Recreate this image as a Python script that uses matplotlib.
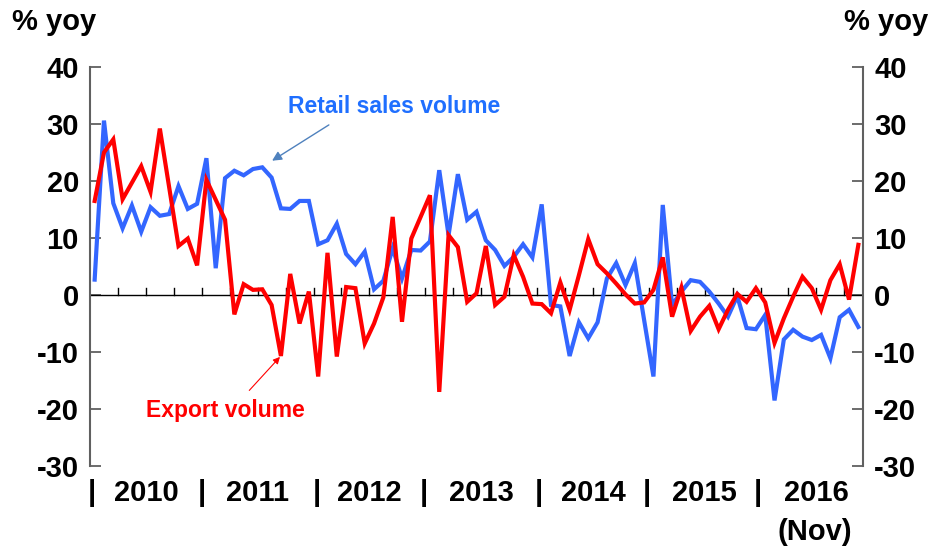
import numpy as np
import matplotlib
matplotlib.use("Agg")
import matplotlib.pyplot as plt
from matplotlib.transforms import blended_transform_factory

plt.rcParams.update({
    "font.family": ["Liberation Sans", "DejaVu Sans"],
    "font.weight": "bold",
    "axes.unicode_minus": False,
})

BLUE = "#3366ff"
RED = "#ff0000"
SPINE = "#606060"

# monthly, Jan 2010 .. Nov 2016 (% yoy)
retail = [2.7, 30.6, 16.1, 11.7, 15.7, 11.1, 15.4, 13.9, 14.2, 19.1, 15.1, 16.0,
          24.0, 4.7, 20.5, 21.8, 21.0, 22.1, 22.4, 20.6, 15.2, 15.1, 16.5, 16.5,
          8.9, 9.6, 12.5, 7.2, 5.4, 7.6, 1.0, 2.5, 8.2, 2.9, 7.9, 7.8,
          9.4, 21.9, 10.5, 21.2, 13.2, 14.6, 9.6, 7.9, 5.1, 6.7, 8.9, 6.6,
          15.9, -1.75, -2.0, -10.7, -4.8, -7.6, -4.8, 2.9, 5.6, 1.75, 5.6, -4.4,
          -14.3, 15.8, -1.75, 0.6, 2.6, 2.3, 0.6, -1.5, -3.8, -0.2, -5.8, -6.0,
          -3.5, -18.5, -7.8, -6.1, -7.3, -7.9, -7.0, -11.1, -3.9, -2.6, -5.6]
export = [16.5, 25.0, 27.3, 16.8, 19.7, 22.6, 18.1, 29.2, 18.9, 8.6, 9.9, 5.2,
          20.2, 16.7, 13.2, -3.4, 1.9, 0.9, 1.0, -1.75, -10.7, 3.7, -5.0, 0.6,
          -14.3, 7.4, -10.8, 1.4, 1.2, -8.5, -5.0, -0.4, 13.7, -4.7, 9.9, 13.7,
          17.5, -17.0, 10.5, 8.4, -1.2, 0.3, 8.6, -1.75, -0.3, 7.0, 3.2, -1.5,
          -1.6, -3.2, 2.2, -2.6, 3.5, 9.8, 5.4, 3.8, 2.0, 0.1, -1.5, -1.3,
          0.9, 6.6, -3.8, 1.3, -6.3, -3.8, -1.9, -6.0, -2.6, 0.2, -1.2, 1.2,
          -1.3, -8.4, -4.1, -0.3, 3.2, 1.2, -2.6, 2.6, 5.4, -0.8, 8.8]
years = ["2010", "2011", "2012", "2013", "2014", "2015", "2016"]
year_centres = [5.5, 17.5, 29.5, 41.5, 53.5, 65.5, 77.5]
pipe_pos = [-0.3, 11.5, 23.9, 35.4, 47.7, 59.3, 71.2]
yticks = np.arange(-30, 41, 10)

x = np.arange(len(retail))

fig = plt.figure(figsize=(9.41, 5.54), dpi=100)
ax = fig.add_axes([90 / 941, 1 - 466 / 554, 773 / 941, 399 / 554])

ax.plot(x, retail, color=BLUE, lw=3.0, solid_joinstyle="miter", zorder=3)
ax.plot(x, export, color=RED, lw=3.0, solid_joinstyle="miter", zorder=4)
ax.axhline(0, color="black", lw=1.0, zorder=2)

# quarter ticks sitting on the zero line
for q in np.arange(2.5, len(x) - 1, 3):
    ax.plot([q, q], [0, 1.25], color="black", lw=1.0, zorder=2)

ax.set_xlim(-0.5, len(x) - 0.5)
ax.set_ylim(-30, 40)
ax.set_xticks([])
ax.set_yticks(yticks)
ax.tick_params(axis="y", direction="in", length=8, width=1.3, color=SPINE,
               labelsize=21, pad=8, labelright=True, right=True)
for lab in ax.get_yticklabels():
    lab.set_fontweight("bold")
for side in ("top", "bottom"):
    ax.spines[side].set_visible(False)
for side in ("left", "right"):
    ax.spines[side].set_color(SPINE)
    ax.spines[side].set_linewidth(1.5)

fig.text(12 / 941, 1 - 22 / 554, "% yoy", fontsize=21, fontweight="bold",
         ha="left", va="center")
fig.text(928 / 941, 1 - 22 / 554, "% yoy", fontsize=21, fontweight="bold",
         ha="right", va="center")

tr = blended_transform_factory(ax.transData, ax.transAxes)
for yr, xc in zip(years, year_centres):
    ax.text(xc, -0.068, yr, transform=tr, fontsize=21, fontweight="bold",
            ha="center", va="center")
for xp in pipe_pos:
    ax.text(xp, -0.068, "|", transform=tr, fontsize=21, fontweight="bold",
            ha="center", va="center")
ax.text(77.3, -0.165, "(Nov)", transform=tr, fontsize=21, fontweight="bold",
        ha="center", va="center")

ax.text(20.8, 33.1, "Retail sales volume", color="#1f6fff", fontsize=16.5,
        fontweight="bold", ha="left", va="center")
ax.annotate("", xy=(18.8, 23.3), xytext=(25.4, 30.1),
            arrowprops=dict(arrowstyle="-|>", color="#4f81bd", lw=1.0,
                            mutation_scale=14))
ax.text(5.5, -20.2, "Export volume", color=RED, fontsize=16.5,
        fontweight="bold", ha="left", va="center")
ax.annotate("", xy=(20.1, -10.5), xytext=(16.4, -17.1),
            arrowprops=dict(arrowstyle="-|>", color=RED, lw=0.8,
                            mutation_scale=10))

fig.savefig("out.png", dpi=100, facecolor="white")
